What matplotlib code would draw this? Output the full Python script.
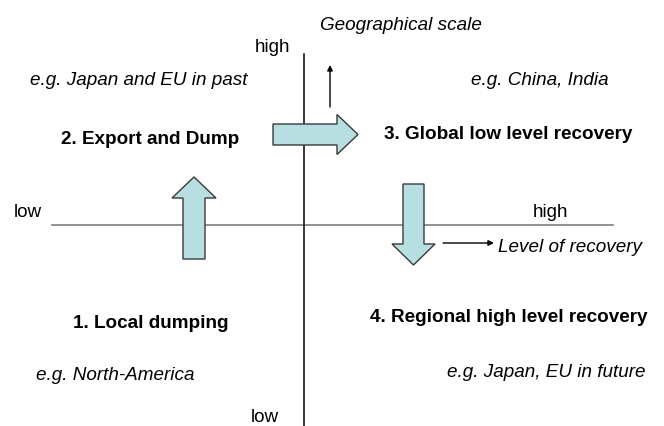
import matplotlib
matplotlib.use('Agg')
import matplotlib.pyplot as plt
from matplotlib.patches import FancyArrow

plt.rcParams['font.family'] = ['Liberation Sans', 'DejaVu Sans']

# quadrant titles and examples
quadrant_titles = ["1. Local dumping", "2. Export and Dump",
                   "3. Global low level recovery", "4. Regional high level recovery"]
quadrant_examples = ["e.g. North-America", "e.g. Japan and EU in past",
                     "e.g. China, India", "e.g. Japan, EU in future"]
axis_names = ["Level of recovery", "Geographical scale"]
axis_ends = ["low", "high"]

# layout in pixel coordinates (y grows downwards)
title_pos = [(151, 321), (150, 137), (508, 132), (509, 315)]
example_pos = [(115, 373), (139, 78), (540, 78), (546, 370)]

# big transition arrows: (x, y, dx, dy, shaft width, head width)
moves = [(194, 260, 0, -82, 22, 44),
         (273, 135.5, 85, 0, 21, 40),
         (413.5, 185, 0, 81, 21, 43)]

FS = 13.6
DY = 2.5  # matplotlib centres on the full text box, nudge down a bit

fig = plt.figure(figsize=(6.64, 4.27), dpi=100)
ax = fig.add_axes([0, 0, 1, 1])
ax.set_xlim(0, 664)
ax.set_ylim(427, 0)
ax.axis('off')

# axes of the diagram
ax.plot([52, 613], [226, 226], color='#7f7f7f', lw=1.2, zorder=1)
ax.plot([304, 304], [55, 427], color='#1a1a1a', lw=1.2, zorder=1)

ax.text(28, 210 + DY, axis_ends[0], fontsize=FS, ha='center', va='center')
ax.text(550, 210 + DY, axis_ends[1], fontsize=FS, ha='center', va='center')
ax.text(273, 45 + DY, axis_ends[1], fontsize=FS, ha='center', va='center')
ax.text(265, 415 + DY, axis_ends[0], fontsize=FS, ha='center', va='center')

# axis direction arrows
ax.annotate("", xy=(494, 244), xytext=(443, 244),
            arrowprops=dict(arrowstyle='-|>', color='black', lw=1, mutation_scale=8,
                            shrinkA=0, shrinkB=0))
ax.text(498, 245 + DY, axis_names[0], fontsize=FS, style='italic', ha='left', va='center')
ax.annotate("", xy=(330, 66), xytext=(330, 108),
            arrowprops=dict(arrowstyle='-|>', color='black', lw=1, mutation_scale=8,
                            shrinkA=0, shrinkB=0))
ax.text(401, 23 + DY, axis_names[1], fontsize=FS, style='italic', ha='center', va='center')

for (x, y), t in zip(title_pos, quadrant_titles):
    ax.text(x, y + DY, t, fontsize=FS, fontweight='bold', ha='center', va='center')
for (x, y), t in zip(example_pos, quadrant_examples):
    ax.text(x, y + DY, t, fontsize=FS, style='italic', ha='center', va='center')

for x, y, dx, dy, w, hw in moves:
    ax.add_patch(FancyArrow(x, y, dx, dy, width=w, head_width=hw, head_length=21,
                            length_includes_head=True, facecolor='#b7dfe1',
                            edgecolor='#3a3a3a', lw=1, zorder=3))

fig.savefig('out.png', dpi=100)
